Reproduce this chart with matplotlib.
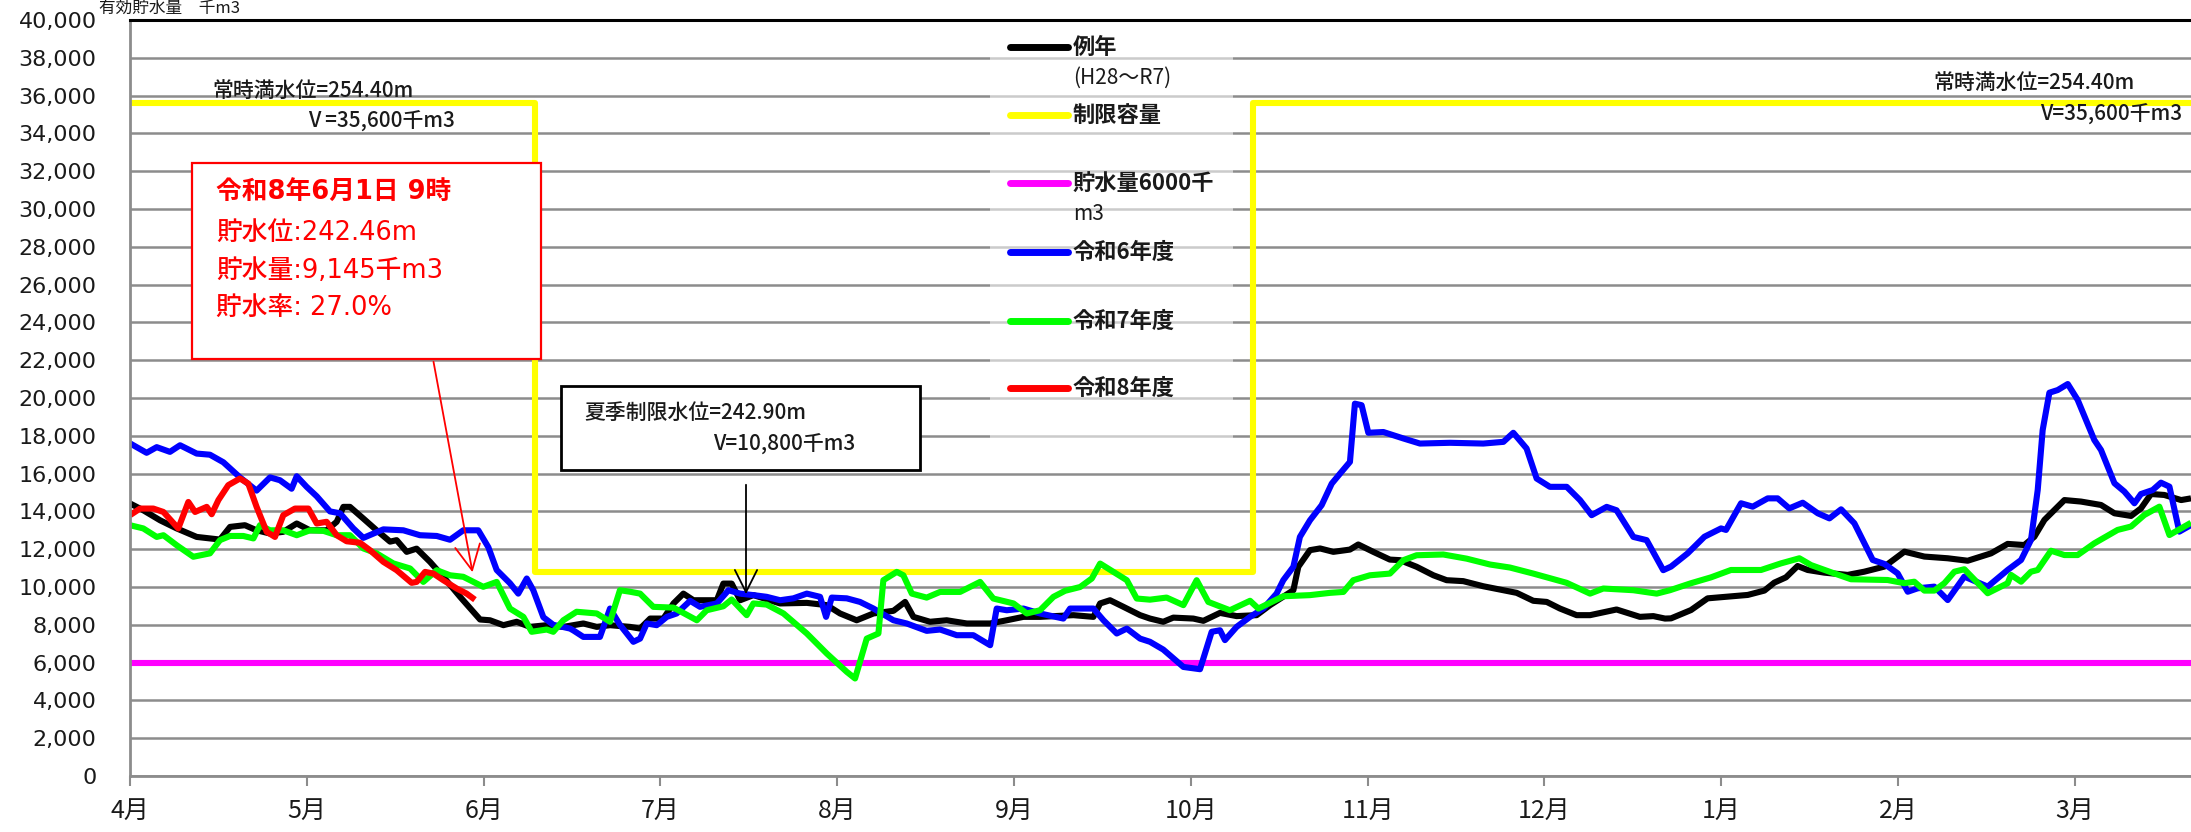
import matplotlib
matplotlib.use("Agg")
import matplotlib.pyplot as plt
from matplotlib.lines import Line2D
from matplotlib.patches import Rectangle, FancyArrowPatch

plt.rcParams['font.family'] = ['Noto Sans CJK JP', 'DejaVu Sans']
WIDE = ['DejaVu Sans', 'Noto Sans CJK JP']   # wider digits, like the original

W, H = 2191, 832

# x = months since 4/1 (0 = 4月, 1 = 5月, ...), y = 千m3
month_labels = ['4月', '5月', '6月', '7月', '8月', '9月', '10月', '11月', '12月', '1月', '2月', '3月']

normal_x = [0, 0.075, 0.170, 0.264, 0.377, 0.509, 0.566, 0.650, 0.716, 0.792, 0.867, 0.943, 1.018, 1.112,
            1.169, 1.207, 1.244, 1.320, 1.395, 1.471, 1.508, 1.565, 1.621, 1.697, 1.772, 1.867, 1.980, 2.036,
            2.112, 2.187, 2.262, 2.357, 2.451, 2.564, 2.640, 2.715, 2.828, 2.885, 2.942, 3.017, 3.074, 3.130,
            3.187, 3.319, 3.356, 3.403, 3.451, 3.526, 3.677, 3.828, 3.941, 4.016, 4.110, 4.205, 4.318, 4.384,
            4.431, 4.525, 4.619, 4.733, 4.865, 4.959, 5.053, 5.147, 5.336, 5.449, 5.487, 5.543, 5.619, 5.713,
            5.769, 5.844, 5.901, 6.014, 6.071, 6.165, 6.259, 6.372, 6.448, 6.580, 6.608, 6.674, 6.731, 6.806,
            6.900, 6.947, 7.032, 7.126, 7.183, 7.277, 7.372, 7.447, 7.541, 7.654, 7.768, 7.843, 7.937, 8.013,
            8.088, 8.182, 8.258, 8.408, 8.540, 8.616, 8.682, 8.716, 8.829, 8.923, 9.037, 9.150, 9.244, 9.300,
            9.366, 9.432, 9.489, 9.583, 9.715, 9.809, 9.923, 10.036, 10.149, 10.281, 10.394, 10.526, 10.620,
            10.714, 10.771, 10.828, 10.941, 11.035, 11.148, 11.224, 11.318, 11.374, 11.431, 11.506, 11.601,
            11.657]
normal_y = [14420, 14060, 13530, 13100, 12650, 12510, 13180, 13270, 13000, 12830, 12920, 13360, 13000, 13000,
            13450, 14240, 14240, 13620, 13000, 12400, 12480, 11860, 12030, 11330, 10540, 9480, 8280, 8240,
            7980, 8160, 7890, 7980, 7890, 8070, 7890, 7980, 7890, 7800, 8330, 8330, 9130, 9650,
            9300, 9300, 10180, 10180, 9300, 9570, 9130, 9160, 9040, 8600, 8240, 8600, 8740, 9210,
            8420, 8160, 8240, 8070, 8070, 8240, 8420, 8420, 8510, 8420, 9130, 9300, 8950, 8510,
            8330, 8160, 8380, 8330, 8210, 8630, 8460, 8510, 9040, 9830, 11070, 11950, 12040, 11860,
            11980, 12250, 11860, 11450, 11420, 11070, 10620, 10360, 10310, 10040, 9830, 9690, 9270, 9210,
            8860, 8510, 8510, 8810, 8420, 8460, 8330, 8340, 8780, 9400, 9490, 9580, 9810, 10230,
            10510, 11110, 10900, 10760, 10640, 10810, 11080, 11870, 11610, 11520, 11390, 11780, 12280,
            12220, 12660, 13550, 14600, 14520, 14340, 13900, 13760, 14160, 14920, 14870, 14600,
            14690]

limit_x = [0, 2.29, 2.29, 6.35, 6.35, 11.657]
limit_y = [35600, 35600, 10800, 10800, 35600, 35600]

min_x = [0, 11.657]
min_y = [6000, 6000]

r6_x = [0, 0.094, 0.151, 0.226, 0.283, 0.377, 0.452, 0.528, 0.622, 0.716, 0.792, 0.848, 0.914, 0.943,
        0.999, 1.056, 1.131, 1.188, 1.263, 1.320, 1.433, 1.546, 1.640, 1.735, 1.810, 1.885, 1.970, 2.027,
        2.074, 2.149, 2.196, 2.244, 2.281, 2.338, 2.394, 2.489, 2.508, 2.564, 2.658, 2.715, 2.771, 2.847,
        2.885, 2.923, 2.979, 3.036, 3.092, 3.168, 3.224, 3.319, 3.385, 3.451, 3.526, 3.601, 3.677, 3.752,
        3.828, 3.903, 3.937, 3.969, 4.054, 4.129, 4.205, 4.318, 4.393, 4.506, 4.582, 4.676, 4.770, 4.865,
        4.902, 4.959, 5.053, 5.147, 5.279, 5.317, 5.449, 5.506, 5.581, 5.638, 5.713, 5.769, 5.844, 5.958,
        6.052, 6.118, 6.165, 6.193, 6.259, 6.335, 6.410, 6.485, 6.523, 6.580, 6.617, 6.674, 6.740, 6.797,
        6.844, 6.900, 6.928, 6.966, 7.004, 7.089, 7.202, 7.296, 7.466, 7.654, 7.768, 7.824, 7.899, 7.956,
        8.031, 8.126, 8.201, 8.267, 8.352, 8.408, 8.503, 8.578, 8.625, 8.672, 8.716, 8.810, 8.905, 8.999,
        9.027, 9.112, 9.178, 9.263, 9.319, 9.385, 9.461, 9.546, 9.612, 9.678, 9.753, 9.800, 9.857, 9.923,
        9.998, 10.055, 10.111, 10.205, 10.281, 10.375, 10.507, 10.620, 10.696, 10.752, 10.790, 10.818,
        10.856, 10.903, 10.960, 11.016, 11.110, 11.148, 11.224, 11.280, 11.337, 11.374, 11.440, 11.487,
        11.535, 11.591, 11.657]
r6_y = [17600, 17100, 17400, 17150, 17500, 17060, 17000, 16600, 15800, 15100, 15800, 15650, 15200, 15860,
        15300, 14800, 14000, 13900, 13100, 12600, 13050, 13000, 12740, 12700, 12500, 13000, 13000, 12100,
        10900, 10200, 9650, 10450, 9830, 8400, 8000, 7800, 7700, 7360, 7360, 8860, 8000, 7100,
        7270, 8070, 7980, 8420, 8600, 9270, 8950, 9130, 9830, 9650, 9570, 9480, 9300, 9400,
        9650, 9480, 8420, 9440, 9400, 9210, 8860, 8240, 8070, 7680, 7750, 7450, 7450, 6920,
        8860, 8770, 8860, 8600, 8330, 8860, 8860, 8240, 7540, 7800, 7270, 7100, 6690, 5770,
        5650, 7630, 7710, 7190, 7890, 8420, 8860, 9650, 10360, 11070, 12650, 13530, 14330, 15470,
        16000, 16620, 19700, 19620, 18160, 18200, 17860, 17590, 17630, 17590, 17680, 18160, 17330, 15740,
        15300, 15300, 14600, 13800, 14240, 14060, 12650, 12480, 11680, 10890, 11080, 11780, 12660, 13100,
        13020, 14430, 14250, 14690, 14690, 14160, 14460, 13900, 13630, 14110, 13370, 12490, 11430, 11220,
        10720, 9750, 9930, 10020, 9310, 10550, 10020, 10900, 11430, 12490, 15130, 18300,
        20280, 20420, 20740, 19900, 17780, 17250, 15490, 15050, 14430, 14920, 15130, 15520,
        15310, 12930, 13280]

r7_x = [0, 0.075, 0.151, 0.189, 0.264, 0.358, 0.452, 0.509, 0.566, 0.641, 0.698, 0.735, 0.792, 0.867,
        0.943, 1.018, 1.094, 1.169, 1.244, 1.320, 1.395, 1.489, 1.584, 1.659, 1.735, 1.810, 1.885, 1.998,
        2.074, 2.149, 2.225, 2.272, 2.357, 2.394, 2.451, 2.526, 2.640, 2.715, 2.771, 2.828, 2.885, 2.960,
        3.074, 3.206, 3.262, 3.356, 3.403, 3.488, 3.526, 3.601, 3.696, 3.828, 3.941, 4.054, 4.101, 4.167,
        4.233, 4.261, 4.337, 4.374, 4.422, 4.506, 4.582, 4.695, 4.808, 4.883, 4.997, 5.072, 5.147, 5.223,
        5.289, 5.374, 5.440, 5.487, 5.562, 5.638, 5.694, 5.769, 5.863, 5.958, 6.033, 6.099, 6.221, 6.335,
        6.382, 6.523, 6.674, 6.787, 6.863, 6.919, 7.013, 7.126, 7.202, 7.277, 7.428, 7.560, 7.692, 7.805,
        7.937, 8.126, 8.258, 8.333, 8.503, 8.635, 8.710, 8.829, 8.942, 9.055, 9.225, 9.338, 9.442, 9.508,
        9.621, 9.734, 9.941, 10.036, 10.092, 10.149, 10.205, 10.262, 10.319, 10.375, 10.507, 10.620,
        10.639, 10.696, 10.752, 10.790, 10.865, 10.941, 11.016, 11.110, 11.242, 11.318, 11.393, 11.478,
        11.535, 11.601, 11.657]
r7_y = [13270, 13100, 12650, 12740, 12210, 11600, 11780, 12480, 12700, 12700, 12570, 13270, 13000, 13000,
        12740, 13000, 12970, 12740, 12740, 12040, 11780, 11250, 10980, 10270, 10890, 10620, 10540, 10010,
        10270, 8860, 8420, 7630, 7750, 7630, 8240, 8690, 8600, 8160, 9830, 9750, 9650, 8950,
        8910, 8240, 8770, 8980, 9340, 8510, 9130, 9070, 8600, 7540, 6480, 5510, 5160, 7270,
        7540, 10360, 10800, 10620, 9650, 9440, 9740, 9740, 10270, 9390, 9130, 8600, 8770, 9480,
        9800, 10000, 10450, 11240, 10800, 10360, 9390, 9330, 9440, 9040, 10360, 9210, 8770, 9270,
        8860, 9510, 9570, 9690, 9740, 10360, 10620, 10710, 11420, 11680, 11720, 11500, 11190, 11030,
        10710, 10220, 9650, 9920, 9830, 9650, 9830, 10200, 10510, 10900, 10900, 11250, 11520, 11160,
        10780, 10410, 10370, 10200, 10280, 9810, 9810, 10200, 10810, 10940, 9670, 10200,
        10640, 10280, 10810, 10900, 11920, 11690, 11690, 12310, 13020, 13200, 13810, 14250,
        12750, 13100, 13400]

r8_x = [0, 0.057, 0.132, 0.189, 0.273, 0.330, 0.368, 0.434, 0.462, 0.500, 0.556, 0.622, 0.669, 0.716,
        0.773, 0.820, 0.867, 0.933, 1.009, 1.056, 1.112, 1.169, 1.225, 1.301, 1.357, 1.433, 1.508, 1.593,
        1.621, 1.669, 1.716, 1.772, 1.848, 1.904, 1.951]
r8_y = [13800, 14150, 14150, 13970, 13100, 14500, 13970, 14240, 13850, 14600, 15390, 15740, 15470, 14240,
        12920, 12650, 13800, 14150, 14150, 13360, 13450, 12740, 12420, 12340, 11950, 11330, 10890, 10220,
        10270, 10800, 10710, 10360, 9920, 9650, 9330]

series = [
    ('例年', normal_x, normal_y, '#000000'),
    ('制限容量', limit_x, limit_y, '#ffff00'),
    ('貯水量6000千m3', min_x, min_y, '#ff00ff'),
    ('令和6年度', r6_x, r6_y, '#0000ff'),
    ('令和7年度', r7_x, r7_y, '#00ff00'),
    ('令和8年度', r8_x, r8_y, '#ff0000'),
]


def fpos(x, y):
    """ pixel position in the 2191x832 picture -> figure fraction """
    return x / W, 1 - y / H


fig = plt.figure(figsize=(W / 100, H / 100), dpi=100)
ax = fig.add_axes([130 / W, 1 - 776 / H, (W - 130) / W, (776 - 20) / H])

for label, xs, ys, color in series:
    ax.plot(xs, ys, color=color, lw=4.4, solid_joinstyle='round', solid_capstyle='butt', label=label)

ax.set_xlim(0, 11.657)
ax.set_ylim(0, 40000)
ax.set_yticks(range(0, 40001, 2000))
ax.set_yticklabels([f'{v:,}' for v in range(0, 40001, 2000)], family=WIDE)
ax.set_xticks(range(12))
ax.set_xticklabels(month_labels)
ax.yaxis.grid(True, color='#8c8c8c', lw=1.8)
ax.set_axisbelow(True)
ax.tick_params(axis='y', length=0, pad=24, labelsize=16, labelcolor='#1a1a1a')
ax.tick_params(axis='x', length=7, width=1.5, color='#8c8c8c', pad=9, labelsize=18, labelcolor='#1a1a1a')
ax.spines['top'].set_color('black')
ax.spines['top'].set_linewidth(2.2)
ax.spines['right'].set_visible(False)
for s in ('left', 'bottom'):
    ax.spines[s].set_color('#8c8c8c')
    ax.spines[s].set_linewidth(2)

# title in the top-left corner
fig.text(*fpos(240, 0), '有効貯水量　千m3', ha='right', va='top', fontsize=12, color='#1a1a1a')

# legend, drawn by hand like the spreadsheet one
fig.patches.append(Rectangle(fpos(990, 450), (1233 - 990) / W, (450 - 25) / H, transform=fig.transFigure,
                             facecolor='white', edgecolor='none', alpha=0.55, zorder=3))
legend_rows = [('例年', '#000000', 47, '(H28～R7)'),
               ('制限容量', '#ffff00', 115, None),
               ('貯水量6000千', '#ff00ff', 183, 'm3'),
               ('令和6年度', '#0000ff', 252, None),
               ('令和7年度', '#00ff00', 321, None),
               ('令和8年度', '#ff0000', 388, None)]
for text, color, y, second in legend_rows:
    x0, y0 = fpos(1010, y)
    x1, _ = fpos(1068, y)
    fig.add_artist(Line2D([x0, x1], [y0, y0], transform=fig.transFigure, color=color, lw=5,
                          solid_capstyle='round', zorder=4))
    fig.text(*fpos(1073, y), text, ha='left', va='center', fontsize=16, weight='bold', color='#1a1a1a', zorder=4)
    if second:
        fig.text(*fpos(1073, y + 31), second, ha='left', va='center', fontsize=15, color='#1a1a1a', zorder=4)

# full water level notes
note_style = dict(ha='left', va='center', fontsize=15, color='#1a1a1a', weight='medium')
fig.text(*fpos(212, 91), '常時満水位=254.40m', **note_style)
fig.text(*fpos(308, 122), 'V =35,600千m3', **note_style)
fig.text(*fpos(1933, 83), '常時満水位=254.40m', **note_style)
fig.text(*fpos(2040, 115), 'V=35,600千m3', **note_style)

# current status box (red)
fig.patches.append(Rectangle(fpos(192, 359), (541 - 192) / W, (359 - 163) / H, transform=fig.transFigure,
                             facecolor='white', edgecolor='#ff0000', lw=1.6, zorder=5))
status_lines = ['令和8年6月1日 9時', '貯水位:242.46m', '貯水量:9,145千m3', '貯水率: 27.0%']
for i, (line, y) in enumerate(zip(status_lines, [193, 233, 271, 308])):
    fig.text(*fpos(216, y), line, ha='left', va='center', fontsize=18.5, color='#ff0000', family=WIDE,
             weight='bold' if i == 0 else 'medium', zorder=6)
fig.add_artist(FancyArrowPatch(fpos(433, 359), fpos(473, 575), transform=fig.transFigure,
                               arrowstyle='->,head_length=0.9,head_width=0.45',
                               mutation_scale=20, color='#ff0000', lw=1.3, zorder=6))

# summer limit box (black)
fig.patches.append(Rectangle(fpos(561, 470), (920 - 561) / W, (470 - 386) / H, transform=fig.transFigure,
                             facecolor='white', edgecolor='black', lw=2, zorder=5))
fig.text(*fpos(584, 413), '夏季制限水位=242.90m', zorder=6, **note_style)
fig.text(*fpos(713, 445), 'V=10,800千m3', zorder=6, **note_style)
fig.add_artist(FancyArrowPatch(fpos(746, 482), fpos(746, 597), transform=fig.transFigure,
                               arrowstyle='->,head_length=0.8,head_width=0.4',
                               mutation_scale=20, color='black', lw=1.3, zorder=6))

fig.savefig('out.png', dpi=100)
